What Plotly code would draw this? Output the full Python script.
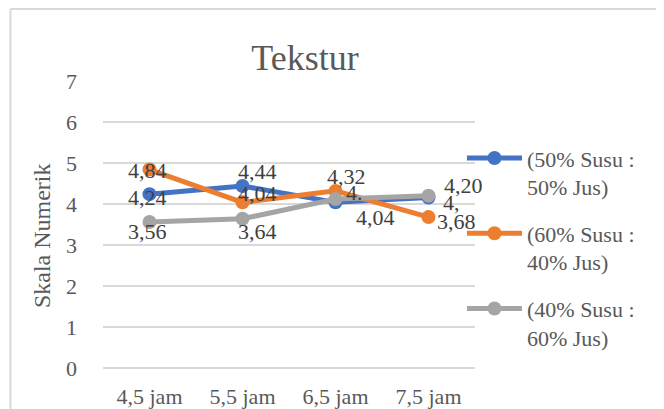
import plotly.graph_objects as go

categories = ["4,5 jam", "5,5 jam", "6,5 jam", "7,5 jam"]
series_names = ["(50% Susu :<br>50% Jus)", "(60% Susu :<br>40% Jus)", "(40% Susu :<br>60% Jus)"]
blue_vals = [4.24, 4.44, 4.04, 4.16]
orange_vals = [4.84, 4.04, 4.32, 3.68]
gray_vals = [3.56, 3.64, 4.12, 4.20]
blue_labels = ["4,24", "4,44", "4,04", "4,"]
orange_labels = ["4,84", "4,04", "4,32", "3,68"]
gray_labels = ["3,56", "3,64", "4.", "4,20"]
y_ticks = [0, 1, 2, 3, 4, 5, 6, 7]
y_title = "Skala Numerik"

colors = ["#4472C4", "#ED7D31", "#A5A5A5"]
FONT = "Liberation Serif, Times New Roman, serif"

fig = go.Figure()
all_vals = [blue_vals, orange_vals, gray_vals]
for i, (name, vals) in enumerate(zip(series_names, all_vals)):
    fig.add_trace(go.Scatter(
        x=categories, y=vals, name=name, mode="lines+markers",
        line=dict(color=colors[i], width=5),
        marker=dict(color=colors[i], size=14),
        legendgroup=f"g{i}",
    ))

# data label offsets (px)
shifts = [
    [(-2, -3), (15, 14), (40, -15), (23, -5)],
    [(-2, -1), (15, 9), (11, 14), (28, -4)],
    [(-2, -9), (15, -13), (19, 7), (35, 10)],
]
all_labels = [blue_labels, orange_labels, gray_labels]
for s, (vals, labels) in enumerate(zip(all_vals, all_labels)):
    for j, (c, v, t) in enumerate(zip(categories, vals, labels)):
        dx, dy = shifts[s][j]
        fig.add_annotation(x=c, y=v, text=t, showarrow=False,
                           xshift=dx, yshift=dy,
                           font=dict(family=FONT, size=22, color="#404040"))

# y-axis title as a rotated annotation
fig.add_annotation(xref="paper", yref="paper", x=-0.164, y=0.463,
                   xanchor="center", yanchor="middle", textangle=-90,
                   text=y_title, showarrow=False,
                   font=dict(family=FONT, size=24, color="#595959"))

fig.update_layout(
    width=664, height=409,
    margin=dict(l=95, r=197, t=73, b=49, autoexpand=False),
    paper_bgcolor="white", plot_bgcolor="white",
    font=dict(family=FONT, color="#595959", size=22),
    title=dict(text="Tekstur", x=297 / 664, xanchor="center",
               y=1 - 49 / 409, yanchor="middle",
               font=dict(family=FONT, size=36, color="#595959")),
    showlegend=True,
    legend=dict(x=0.965, xanchor="left", y=0.804, yanchor="top",
                font=dict(family=FONT, size=22, color="#595959"),
                itemwidth=55, tracegroupgap=15, valign="top",
                bgcolor="rgba(0,0,0,0)"),
    xaxis=dict(range=[-0.5, 3.5], showgrid=False, showline=False, ticks="",
               ticklabelstandoff=13,
               tickfont=dict(family=FONT, size=22, color="#595959")),
    yaxis=dict(range=[0, 7], tickvals=y_ticks, showgrid=True,
               gridcolor="#D9D9D9", gridwidth=1.5, zeroline=True,
               zerolinecolor="#D9D9D9", zerolinewidth=1.5, showline=False,
               ticks="", ticklabelstandoff=25,
               tickfont=dict(family=FONT, size=22, color="#595959")),
    shapes=[
        dict(type="line", xref="paper", yref="paper", x0=-0.2487, x1=2.0,
             y0=1.2513, y1=1.2513, line=dict(color="#D9D9D9", width=2)),
        dict(type="line", xref="paper", yref="paper", x0=-0.2487, x1=-0.2487,
             y0=-0.5, y1=1.2513, line=dict(color="#D9D9D9", width=2)),
    ],
)

fig.write_html("out.html")
